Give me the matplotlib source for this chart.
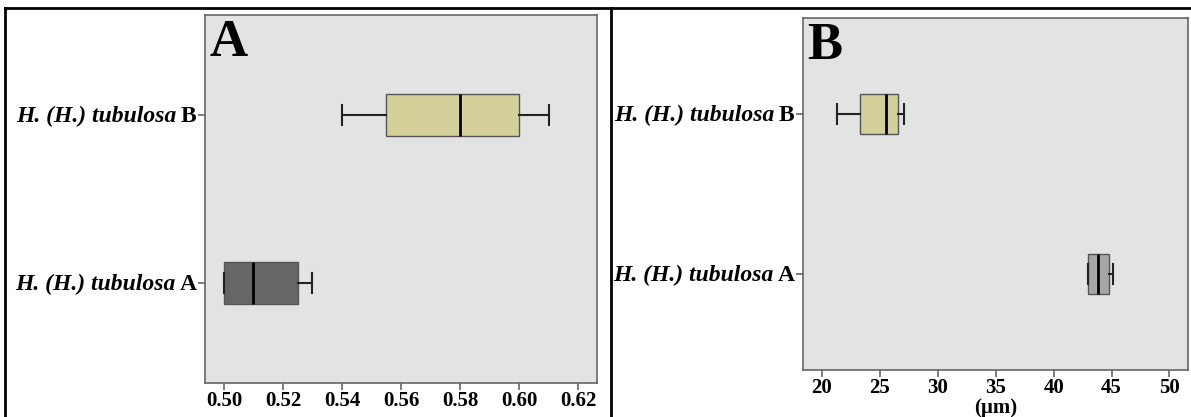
import matplotlib
matplotlib.use("Agg")
import matplotlib.pyplot as plt
from matplotlib.lines import Line2D
from matplotlib.offsetbox import TextArea, HPacker, AnnotationBbox
import matplotlib.transforms as mtransforms

plt.rcParams['font.family'] = ['Liberation Serif', 'DejaVu Serif']

# ---- data ----
categories = ["A", "B"]
label_prefix = "H. (H.) tubulosa"
# panel A (ratio)
a_whislo = [0.500, 0.540]
a_q1     = [0.500, 0.555]
a_med    = [0.510, 0.580]
a_q3     = [0.525, 0.600]
a_whishi = [0.530, 0.610]
a_ticks  = [0.50, 0.52, 0.54, 0.56, 0.58, 0.60, 0.62]
# panel B (µm)
b_whislo = [43.0, 21.3]
b_q1     = [43.0, 23.3]
b_med    = [43.85, 25.5]
b_q3     = [44.8, 26.55]
b_whishi = [45.1, 27.1]
b_ticks  = [20, 25, 30, 35, 40, 45, 50]

W, H = 1191, 417
fig = plt.figure(figsize=(W / 100, H / 100), dpi=100)

def px_ax(x0, x1, ytop, ybot):
    return fig.add_axes([x0 / W, 1 - ybot / H, (x1 - x0) / W, (ybot - ytop) / H])

axA = px_ax(205, 597, 15, 383)
axB = px_ax(803, 1188, 18, 370)

LABEL_FS = 17

def ylabels(ax):
    trans = mtransforms.blended_transform_factory(ax.transAxes, ax.transData)
    for pos, c in zip([1, 2], categories):
        t1 = TextArea(label_prefix, textprops=dict(fontsize=LABEL_FS, fontweight='bold',
                                                   fontstyle='italic'))
        t2 = TextArea(c, textprops=dict(fontsize=LABEL_FS, fontweight='bold'))
        pk = HPacker(children=[t1, t2], align="baseline", pad=0, sep=3)
        ab = AnnotationBbox(pk, (0, pos), xycoords=trans, xybox=(-6, -1),
                            boxcoords="offset points", box_alignment=(1, 0.5),
                            frameon=False, pad=0, annotation_clip=False)
        ax.add_artist(ab)

def draw(ax, lo, q1, med, q3, hi, colors, xlim, ticks, ticklabels, letter):
    stats = []
    for i in range(len(categories)):
        stats.append(dict(whislo=lo[i], q1=q1[i], med=med[i], q3=q3[i], whishi=hi[i], fliers=[]))
    bp = ax.bxp(stats, positions=[1, 2], widths=0.25, vert=False, patch_artist=True,
                showfliers=False, capwidths=0.12,
                boxprops=dict(edgecolor="#555555", linewidth=1.0),
                medianprops=dict(color="black", linewidth=2.0),
                whiskerprops=dict(color="#222222", linewidth=1.5),
                capprops=dict(color="#222222", linewidth=1.5))
    for patch, c in zip(bp['boxes'], colors):
        patch.set_facecolor(c)
    ax.set_facecolor("#e3e3e3")
    ax.set_xlim(*xlim)
    ax.set_ylim(0.4, 2.6)
    ax.set_xticks(ticks, ticklabels, fontsize=15, fontweight='bold')
    ax.set_yticks([1, 2], ["", ""])
    ax.tick_params(axis='both', color="#666666", length=5, width=1.2)
    ax.tick_params(axis='x', pad=0.5)
    for s in ax.spines.values():
        s.set_color("#666666")
        s.set_linewidth(1.2)
    ax.text(0.012, 0.99, letter, transform=ax.transAxes, fontsize=38, fontweight='bold',
            va='top', ha='left')
    ylabels(ax)

draw(axA, a_whislo, a_q1, a_med, a_q3, a_whishi, ["#666666", "#d4d099"],
     (0.4936, 0.6264), a_ticks, ["%.2f" % t for t in a_ticks], "A")
draw(axB, b_whislo, b_q1, b_med, b_q3, b_whishi, ["#a6a6a6", "#d4d099"],
     (18.36, 51.6), b_ticks, [str(t) for t in b_ticks], "B")
axB.set_xlabel("(µm)", fontsize=15, fontweight='bold', labelpad=0)

# outer frame lines
lw = 2.0
fig.add_artist(Line2D([5 / W, 1], [1 - 8 / H, 1 - 8 / H], color='black', lw=lw))
fig.add_artist(Line2D([5 / W, 5 / W], [0, 1 - 8 / H], color='black', lw=lw))
fig.add_artist(Line2D([611 / W, 611 / W], [0, 1 - 8 / H], color='black', lw=lw))

fig.savefig("out.png", dpi=100, facecolor='white')
